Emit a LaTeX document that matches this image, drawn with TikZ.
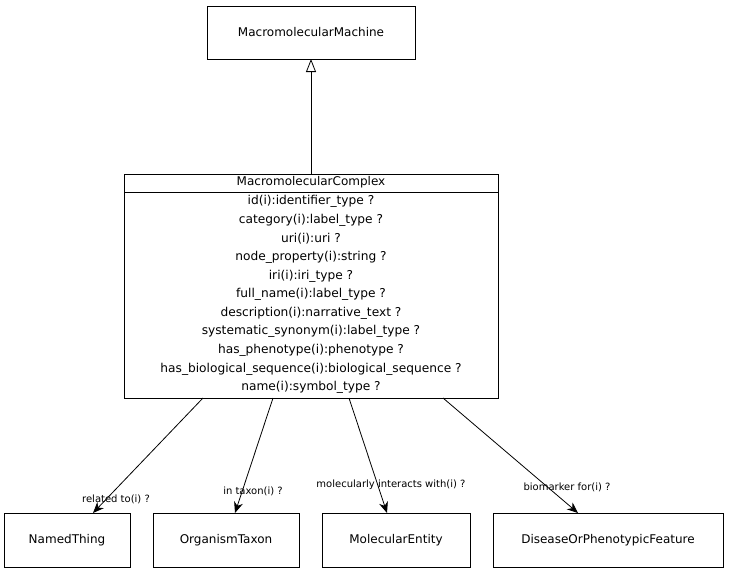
\documentclass[tikz,border=0pt]{standalone}
\usepackage{fontspec}
\setmainfont{DejaVu Sans}
\usetikzlibrary{arrows.meta}
\begin{document}
\begin{tikzpicture}[x=1pt,y=-1pt,
  classbox/.style={draw,line width=0.8pt,inner sep=0pt},
  boxtext/.style={font=\fontsize{12}{14}\selectfont},
  attr/.style={font=\fontsize{12.2}{14}\selectfont,anchor=center},
  edgelabel/.style={font=\fontsize{10}{12}\selectfont,anchor=center},
  assoc/.style={line width=0.8pt,-{Stealth[length=11pt,width=9pt,inset=3.5pt]}},
  isa/.style={line width=0.8pt,-{Triangle[open,length=13pt,width=10pt]}}
]
\useasboundingbox (0,0) rectangle (730,573);

% parent class
\draw[classbox] (207,6) rectangle (415,59);
\node[boxtext] (machine) at (311,32.5) {MacromolecularMachine};
\coordinate (machineB) at (311,59);

% main class with attribute compartment
\draw[classbox] (124,174) rectangle (498,398);
\draw[line width=0.8pt] (124,192) -- (498,192);
\node[boxtext] (complex) at (311,182.5) {MacromolecularComplex};
\coordinate (complexT) at (311,174);
\foreach \t [count=\i from 0] in {
  id(i):identifier\_type ?,
  category(i):label\_type ?,
  uri(i):uri ?,
  node\_property(i):string ?,
  iri(i):iri\_type ?,
  full\_name(i):label\_type ?,
  description(i):narrative\_text ?,
  systematic\_synonym(i):label\_type ?,
  has\_phenotype(i):phenotype ?,
  has\_biological\_sequence(i):biological\_sequence ?,
  name(i):symbol\_type ?}
  \node[attr] (attr\i) at (311,{201.5+18.6*\i}) {\t};

% range classes
\draw[classbox] (4,513) rectangle (130,567);
\node[boxtext] (named) at (67,540) {NamedThing};
\draw[classbox] (153,513) rectangle (299,567);
\node[boxtext] (taxon) at (226,540) {OrganismTaxon};
\draw[classbox] (322,513) rectangle (470,567);
\node[boxtext] (molent) at (396,540) {MolecularEntity};
\draw[classbox] (493,513) rectangle (723,567);
\node[boxtext] (disease) at (608,540) {DiseaseOrPhenotypicFeature};

% connector end points on box borders
\coordinate (s1) at (203,398); \coordinate (t1) at (93,513);
\coordinate (s2) at (273,398); \coordinate (t2) at (235,513);
\coordinate (s3) at (349,398); \coordinate (t3) at (387,513);
\coordinate (s4) at (443,398); \coordinate (t4) at (578,513);

% inheritance
\draw[isa] (complexT) -- (machineB);

% associations
\draw[assoc] (s1) -- (t1);
\draw[assoc] (s2) -- (t2);
\draw[assoc] (s3) -- (t3);
\draw[assoc] (s4) -- (t4);

\node[edgelabel] (l1) at (116,499.5) {related to(i) ?};
\node[edgelabel] (l2) at (253,491.5) {in taxon(i) ?};
\node[edgelabel] (l3) at (391,484.5) {molecularly interacts with(i) ?};
\node[edgelabel] (l4) at (567,487.5) {biomarker for(i) ?};
\end{tikzpicture}
\end{document}
